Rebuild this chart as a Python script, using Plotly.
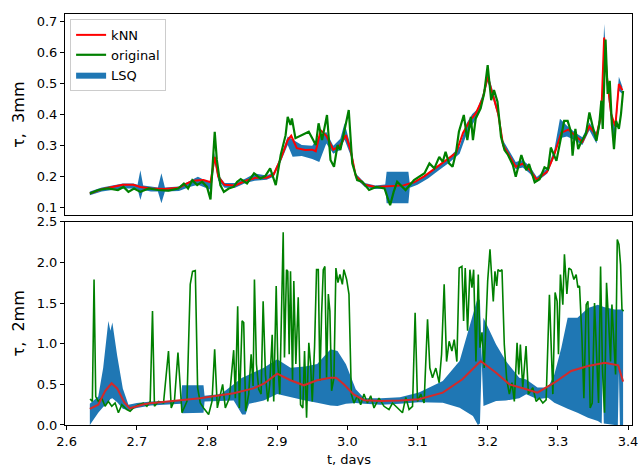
import plotly.graph_objects as go
from plotly.subplots import make_subplots

# ---- top panel: tau, 3mm ----
t_orig3 = [2.633, 2.645, 2.659, 2.673, 2.681, 2.688, 2.696, 2.705, 2.717, 2.730,
           2.745, 2.759, 2.767, 2.773, 2.779, 2.786, 2.793, 2.800, 2.805, 2.811,
           2.814, 2.819, 2.824, 2.831, 2.838, 2.843, 2.848, 2.857, 2.867, 2.876,
           2.883, 2.890, 2.898, 2.905, 2.912, 2.915, 2.919, 2.921, 2.926, 2.936,
           2.945, 2.950, 2.955, 2.959, 2.964, 2.971, 2.976, 2.981, 2.986, 2.990,
           2.998, 3.002, 3.007, 3.014, 3.021, 3.031, 3.041, 3.053, 3.061, 3.066,
           3.071, 3.083, 3.095, 3.110, 3.117, 3.124, 3.131, 3.136, 3.140, 3.145,
           3.150, 3.155, 3.159, 3.166, 3.171, 3.176, 3.179, 3.183, 3.190, 3.195,
           3.200, 3.205, 3.209, 3.214, 3.219, 3.224, 3.229, 3.236, 3.240, 3.248,
           3.255, 3.259, 3.267, 3.274, 3.281, 3.286, 3.290, 3.298, 3.305, 3.309,
           3.314, 3.319, 3.321, 3.325, 3.329, 3.333, 3.340, 3.345, 3.350, 3.355,
           3.359, 3.362, 3.364, 3.368, 3.371, 3.374, 3.377, 3.380, 3.383, 3.387,
           3.390, 3.393]
orig3 = [0.144, 0.155, 0.160, 0.155, 0.165, 0.149, 0.160, 0.149, 0.160, 0.155,
         0.153, 0.160, 0.176, 0.160, 0.187, 0.171, 0.182, 0.165, 0.125, 0.343,
         0.252, 0.171, 0.149, 0.160, 0.165, 0.182, 0.190, 0.176, 0.209, 0.192,
         0.200, 0.225, 0.171, 0.268, 0.332, 0.391, 0.365, 0.386, 0.322, 0.332,
         0.343, 0.322, 0.300, 0.370, 0.316, 0.397, 0.252, 0.230, 0.300, 0.284,
         0.365, 0.413, 0.241, 0.187, 0.182, 0.155, 0.165, 0.160, 0.106, 0.149,
         0.182, 0.155, 0.187, 0.209, 0.241, 0.225, 0.262, 0.246, 0.278, 0.241,
         0.230, 0.278, 0.343, 0.397, 0.316, 0.391, 0.316, 0.386, 0.418, 0.467,
         0.558, 0.445, 0.477, 0.440, 0.327, 0.284, 0.268, 0.235, 0.198, 0.268,
         0.219, 0.239, 0.180, 0.190, 0.228, 0.222, 0.292, 0.249, 0.330, 0.378,
         0.378, 0.341, 0.266, 0.352, 0.287, 0.309, 0.336, 0.405, 0.357, 0.314,
         0.367, 0.443, 0.352, 0.640, 0.465, 0.507, 0.368, 0.287, 0.378, 0.352,
         0.400, 0.475]

t_knn3 = [2.633, 2.650, 2.665, 2.680, 2.695, 2.705, 2.720, 2.740, 2.760, 2.770,
          2.780, 2.795, 2.805, 2.811, 2.816, 2.825, 2.840, 2.855, 2.870, 2.885,
          2.895, 2.905, 2.915, 2.920, 2.928, 2.940, 2.950, 2.955, 2.962, 2.970,
          2.980, 2.990, 2.998, 3.005, 3.012, 3.025, 3.040, 3.060, 3.080, 3.095,
          3.110, 3.125, 3.140, 3.155, 3.165, 3.175, 3.183, 3.193, 3.200, 3.207,
          3.215, 3.222, 3.230, 3.240, 3.250, 3.260, 3.270, 3.285, 3.295, 3.305,
          3.315, 3.325, 3.335, 3.345, 3.355, 3.362, 3.366, 3.370, 3.376, 3.382,
          3.387, 3.392]
knn3 = [0.144, 0.158, 0.165, 0.172, 0.172, 0.165, 0.160, 0.158, 0.162, 0.175,
        0.185, 0.187, 0.180, 0.262, 0.198, 0.172, 0.170, 0.185, 0.195, 0.195,
        0.205, 0.255, 0.316, 0.330, 0.290, 0.284, 0.285, 0.280, 0.348, 0.330,
        0.285, 0.300, 0.332, 0.280, 0.200, 0.172, 0.165, 0.168, 0.170, 0.180,
        0.200, 0.225, 0.250, 0.275, 0.340, 0.380, 0.402, 0.450, 0.520, 0.467,
        0.400, 0.300, 0.270, 0.230, 0.240, 0.220, 0.188, 0.215, 0.270, 0.340,
        0.350, 0.330, 0.310, 0.360, 0.330, 0.400, 0.647, 0.520, 0.400, 0.360,
        0.497, 0.477]

t_lsq3 = [2.633, 2.650, 2.665, 2.680, 2.695, 2.701, 2.705, 2.709, 2.720, 2.730,
          2.735, 2.740, 2.760, 2.775, 2.787, 2.800, 2.806, 2.811, 2.816, 2.825,
          2.840, 2.855, 2.868, 2.885, 2.895, 2.905, 2.915, 2.922, 2.935, 2.950,
          2.960, 2.970, 2.980, 2.990, 2.996, 3.005, 3.012, 3.025, 3.040, 3.054,
          3.056, 3.087, 3.089, 3.100, 3.115, 3.130, 3.145, 3.160, 3.170, 3.178,
          3.185, 3.193, 3.200, 3.207, 3.215, 3.222, 3.230, 3.240, 3.250, 3.260,
          3.270, 3.285, 3.295, 3.303, 3.313, 3.325, 3.335, 3.345, 3.355, 3.362,
          3.366, 3.370, 3.376, 3.381, 3.387, 3.392]
lsq3_lo = [0.138, 0.150, 0.155, 0.160, 0.160, 0.158, 0.123, 0.155, 0.150, 0.150,
           0.112, 0.150, 0.152, 0.165, 0.172, 0.160, 0.155, 0.245, 0.185, 0.162,
           0.162, 0.178, 0.185, 0.188, 0.198, 0.245, 0.300, 0.262, 0.265, 0.255,
           0.245, 0.305, 0.272, 0.285, 0.318, 0.265, 0.192, 0.165, 0.158, 0.160,
           0.112, 0.112, 0.162, 0.172, 0.192, 0.218, 0.243, 0.272, 0.335, 0.365,
           0.392, 0.442, 0.505, 0.455, 0.390, 0.292, 0.262, 0.222, 0.228, 0.208,
           0.182, 0.208, 0.262, 0.322, 0.328, 0.315, 0.300, 0.348, 0.305, 0.385,
           0.610, 0.490, 0.375, 0.300, 0.475, 0.465]
lsq3_hi = [0.150, 0.163, 0.170, 0.176, 0.176, 0.172, 0.219, 0.170, 0.166, 0.163,
           0.209, 0.163, 0.166, 0.183, 0.198, 0.183, 0.180, 0.275, 0.205, 0.178,
           0.178, 0.192, 0.208, 0.202, 0.212, 0.262, 0.328, 0.318, 0.300, 0.298,
           0.330, 0.342, 0.298, 0.320, 0.370, 0.295, 0.208, 0.178, 0.170, 0.173,
           0.214, 0.214, 0.176, 0.186, 0.207, 0.235, 0.260, 0.295, 0.370, 0.400,
           0.415, 0.465, 0.535, 0.478, 0.415, 0.315, 0.285, 0.245, 0.252, 0.232,
           0.197, 0.226, 0.285, 0.385, 0.362, 0.340, 0.325, 0.372, 0.340, 0.415,
           0.690, 0.545, 0.415, 0.355, 0.520, 0.488]

# ---- bottom panel: tau, 2mm ----
t_orig2 = [2.6333, 2.6366, 2.6390, 2.6414, 2.6451, 2.6500, 2.6547, 2.6594, 2.6643, 2.6690,
           2.6737, 2.6786, 2.6857, 2.6904, 2.6951, 2.7023, 2.7094, 2.7143, 2.7190, 2.7223,
           2.7251, 2.7309, 2.7380, 2.7451, 2.7490, 2.7537, 2.7586, 2.7643, 2.7714, 2.7761,
           2.7794, 2.7833, 2.7866, 2.7904, 2.7951, 2.8023, 2.8071, 2.8109, 2.8147, 2.8190,
           2.8223, 2.8261, 2.8319, 2.8380, 2.8404, 2.8437, 2.8461, 2.8500, 2.8523, 2.8551,
           2.8594, 2.8629, 2.8657, 2.8676, 2.8704, 2.8737, 2.8771, 2.8800, 2.8833, 2.8866,
           2.8894, 2.8929, 2.8951, 2.8986, 2.9009, 2.9037, 2.9086, 2.9104, 2.9133, 2.9151,
           2.9171, 2.9190, 2.9219, 2.9237, 2.9266, 2.9300, 2.9333, 2.9366, 2.9390, 2.9419,
           2.9451, 2.9476, 2.9500, 2.9533, 2.9561, 2.9586, 2.9609, 2.9633, 2.9657, 2.9680,
           2.9704, 2.9729, 2.9751, 2.9776, 2.9809, 2.9837, 2.9866, 2.9894, 2.9929, 2.9951,
           2.9990, 3.0023, 3.0057, 3.0094, 3.0143, 3.0190, 3.0237, 3.0286, 3.0333, 3.0380,
           3.0451, 3.0523, 3.0594, 3.0643, 3.0714, 3.0786, 3.0833, 3.0880, 3.0929, 3.0966,
           3.1000, 3.1047, 3.1094, 3.1143, 3.1176, 3.1214, 3.1261, 3.1309, 3.1343, 3.1380,
           3.1414, 3.1451, 3.1490, 3.1523, 3.1561, 3.1594, 3.1633, 3.1657, 3.1680, 3.1714,
           3.1747, 3.1776, 3.1800, 3.1833, 3.1866, 3.1890, 3.1919, 3.1951, 3.2000, 3.2033,
           3.2061, 3.2080, 3.2104, 3.2129, 3.2147, 3.2176, 3.2204, 3.2237, 3.2271, 3.2309,
           3.2347, 3.2380, 3.2419, 3.2443, 3.2466, 3.2500, 3.2547, 3.2580, 3.2643, 3.2690,
           3.2737, 3.2786, 3.2833, 3.2880, 3.2929, 3.2961, 3.2990, 3.3009, 3.3037, 3.3071,
           3.3094, 3.3129, 3.3157, 3.3190, 3.3229, 3.3261, 3.3286, 3.3309, 3.3343, 3.3371,
           3.3404, 3.3429, 3.3461, 3.3490, 3.3523, 3.3547, 3.3580, 3.3609, 3.3637, 3.3666,
           3.3694, 3.3723, 3.3751, 3.3771, 3.3800, 3.3823, 3.3847, 3.3871, 3.3894, 3.3914,
           3.3937]
orig2 = [0.32, 0.29, 1.79, 0.35, 0.29, 0.33, 0.23, 0.29, 0.23, 0.27,
         0.15, 0.25, 0.19, 0.17, 0.21, 0.25, 0.27, 0.23, 0.29, 1.40,
         0.23, 0.29, 0.27, 0.91, 0.21, 0.31, 0.89, 0.15, 0.29, 1.73,
         1.89, 1.90, 0.46, 0.27, 0.21, 0.13, 0.29, 0.93, 0.21, 0.38,
         0.50, 0.21, 0.33, 0.92, 0.33, 1.46, 0.21, 1.28, 1.26, 0.17,
         0.38, 0.87, 0.48, 1.79, 0.75, 0.44, 0.38, 1.52, 0.62, 0.29,
         0.50, 1.11, 0.29, 1.71, 0.75, 0.38, 2.37, 0.83, 1.91, 1.89,
         0.87, 1.89, 0.54, 1.77, 0.75, 1.57, 0.25, 0.21, 0.91, 0.09,
         1.01, 0.75, 0.29, 0.97, 1.91, 1.91, 0.54, 1.36, 1.91, 1.95,
         0.58, 1.61, 1.40, 0.42, 0.58, 1.93, 1.75, 1.85, 1.73, 1.91,
         1.79, 1.61, 0.38, 0.27, 0.36, 0.25, 0.38, 0.27, 0.36, 0.21,
         0.33, 0.23, 0.19, 0.27, 0.21, 0.15, 0.34, 0.19, 0.23, 1.38,
         0.29, 0.38, 0.27, 1.30, 0.70, 0.58, 0.70, 0.52, 0.87, 1.73,
         0.78, 1.03, 0.91, 1.05, 0.78, 1.93, 1.95, 1.28, 1.93, 1.16,
         1.91, 1.69, 1.91, 0.78, 1.85, 0.95, 1.14, 0.70, 1.77, 2.16,
         1.77, 1.52, 1.89, 1.71, 1.91, 1.89, 1.91, 0.99, 0.56, 0.38,
         0.52, 0.29, 1.01, 0.62, 0.99, 0.46, 0.97, 0.38, 0.46, 0.29,
         0.33, 0.27, 0.31, 1.60, 0.38, 1.63, 1.52, 0.87, 1.85, 1.48,
         2.10, 1.61, 1.93, 1.91, 1.79, 1.85, 1.69, 1.71, 1.09, 0.33,
         1.48, 1.52, 0.21, 0.27, 1.50, 1.03, 0.27, 1.95, 0.66, 0.15,
         1.75, 1.28, 0.78, 1.48, 0.93, 0.62, 2.28, 2.22, 1.97, 1.42,
         1.40]

t_knn2 = [2.633, 2.645, 2.655, 2.664, 2.672, 2.682, 2.690, 2.700, 2.710, 2.719,
          2.750, 2.790, 2.838, 2.866, 2.881, 2.900, 2.919, 2.938, 2.957, 2.976,
          2.984, 2.995, 3.009, 3.024, 3.048, 3.075, 3.102, 3.136, 3.164, 3.190,
          3.212, 3.231, 3.255, 3.271, 3.295, 3.319, 3.343, 3.367, 3.386, 3.393]
knn2 = [0.197, 0.25, 0.42, 0.513, 0.45, 0.28, 0.205, 0.23, 0.255, 0.267,
        0.29, 0.328, 0.39, 0.45, 0.508, 0.631, 0.55, 0.488, 0.55, 0.582,
        0.582, 0.50, 0.377, 0.304, 0.295, 0.30, 0.316, 0.398, 0.562, 0.787,
        0.643, 0.50, 0.439, 0.398, 0.52, 0.664, 0.726, 0.766, 0.734, 0.533]

t_lsq2 = [2.633, 2.645, 2.652, 2.6594, 2.6623, 2.6651, 2.672, 2.680, 2.688, 2.700,
          2.720, 2.763, 2.7645, 2.795, 2.7965, 2.820, 2.838, 2.850, 2.855, 2.860,
          2.881, 2.900, 2.919, 2.940, 2.957, 2.976, 2.986, 2.998, 3.012, 3.024,
          3.048, 3.075, 3.102, 3.136, 3.160, 3.179, 3.186, 3.189, 3.1915, 3.194,
          3.212, 3.226, 3.245, 3.255, 3.271, 3.286, 3.295, 3.305, 3.314, 3.328,
          3.343, 3.357, 3.3625, 3.364, 3.3655, 3.381, 3.3855, 3.387, 3.3885, 3.393]
lsq2_lo = [0.00, 0.15, 0.22, 0.28, 0.32, 0.33, 0.28, 0.20, 0.18, 0.21,
           0.24, 0.26, 0.144, 0.15, 0.29, 0.30, 0.30, 0.13, 0.13, 0.26,
           0.30, 0.38, 0.34, 0.30, 0.275, 0.24, 0.234, 0.26, 0.27, 0.26,
           0.25, 0.26, 0.28, 0.275, 0.213, 0.11, 0.00, 0.02, 0.78, 0.234,
           0.295, 0.30, 0.33, 0.377, 0.316, 0.336, 0.275, 0.234, 0.20, 0.15,
           0.09, 0.05, 0.02, 0.66, 0.02, 0.00, 0.00, 0.66, 0.00, 0.00]
lsq2_hi = [0.26, 0.35, 0.70, 1.28, 1.16, 1.26, 0.85, 0.45, 0.25, 0.27,
           0.29, 0.30, 0.49, 0.49, 0.36, 0.38, 0.50, 0.58, 0.60, 0.62,
           0.705, 0.808, 0.705, 0.72, 0.75, 0.93, 0.91, 0.746, 0.44, 0.33,
           0.33, 0.34, 0.40, 0.54, 0.787, 1.36, 1.57, 1.53, 0.80, 1.32,
           0.99, 0.787, 0.58, 0.56, 0.46, 0.46, 0.62, 0.95, 1.32, 1.32,
           1.44, 1.48, 1.46, 1.45, 1.45, 1.42, 1.42, 1.42, 1.42, 1.42]

x_ticks = [2.6, 2.7, 2.8, 2.9, 3.0, 3.1, 3.2, 3.3, 3.4]
y3_ticks = [0.1, 0.2, 0.3, 0.4, 0.5, 0.6, 0.7]
y2_ticks = [0.0, 0.5, 1.0, 1.5, 2.0, 2.5]

BLUE = '#1f77b4'
GREEN = 'green'

fig = make_subplots(rows=2, cols=1, shared_xaxes=True)

# top: LSQ band, kNN, original
fig.add_trace(go.Scatter(x=t_lsq3, y=lsq3_lo, mode='lines', line=dict(width=0, color=BLUE),
                         showlegend=False, hoverinfo='skip'), row=1, col=1)
fig.add_trace(go.Scatter(x=t_lsq3, y=lsq3_hi, mode='lines', line=dict(width=0, color=BLUE),
                         fill='tonexty', fillcolor=BLUE, name='LSQ', legendrank=3),
              row=1, col=1)
fig.add_trace(go.Scatter(x=t_knn3, y=knn3, mode='lines', line=dict(color='red', width=2),
                         name='kNN', legendrank=1), row=1, col=1)
fig.add_trace(go.Scatter(x=t_orig3, y=orig3, mode='lines', line=dict(color=GREEN, width=2.2),
                         name='original', legendrank=2), row=1, col=1)

# bottom: LSQ band, original, kNN
fig.add_trace(go.Scatter(x=t_lsq2, y=lsq2_lo, mode='lines', line=dict(width=0, color=BLUE),
                         showlegend=False, hoverinfo='skip'), row=2, col=1)
fig.add_trace(go.Scatter(x=t_lsq2, y=lsq2_hi, mode='lines', line=dict(width=0, color=BLUE),
                         fill='tonexty', fillcolor=BLUE, showlegend=False), row=2, col=1)
fig.add_trace(go.Scatter(x=t_orig2, y=orig2, mode='lines', line=dict(color=GREEN, width=1.6),
                         showlegend=False), row=2, col=1)
fig.add_trace(go.Scatter(x=t_knn2, y=knn2, mode='lines', line=dict(color='#d42a2a', width=2),
                         showlegend=False), row=2, col=1)

axis_style = dict(showline=True, linecolor='black', linewidth=1, mirror=True,
                  showgrid=False, zeroline=False, automargin=False)

fig.update_layout(
    width=638, height=465,
    margin=dict(l=65, r=6, t=14, b=40),
    plot_bgcolor='white', paper_bgcolor='white',
    font=dict(family='DejaVu Sans', size=13, color='black'),
    legend=dict(x=0.009, y=0.988, xanchor='left', yanchor='top', traceorder='normal',
                bgcolor='white', bordercolor='#cccccc', borderwidth=1,
                font=dict(size=13), tracegroupgap=0),
    xaxis=dict(range=[2.5976, 3.4057], showticklabels=False, ticks='', **axis_style),
    xaxis2=dict(range=[2.5976, 3.4057], tickvals=x_ticks, tickformat='.1f',
                ticks='outside', ticklen=4, tickcolor='black', ticklabeloverflow='allow',
                **axis_style),
    yaxis=dict(domain=[0.5102, 1.0], range=[0.0735, 0.7226], tickvals=y3_ticks,
               tickformat='.1f', ticks='outside', ticklen=4, tickcolor='black',
               title=dict(text='\u03c4,\u00a0 3mm', standoff=8), **axis_style),
    yaxis2=dict(domain=[0.0, 0.4947], range=[0, 2.5], tickvals=y2_ticks,
                tickformat='.1f', ticks='outside', ticklen=4, tickcolor='black',
                title=dict(text='\u03c4,\u00a0 2mm', standoff=8), **axis_style),
)

# x label sits low, partly cut by the bottom edge as in the original figure
fig.add_annotation(text='t, days', xref='paper', yref='paper', x=0.5, y=-0.083,
                   xanchor='center', yanchor='middle', showarrow=False,
                   font=dict(size=13))

# drop the default page margin so the figure sits at the window's top-left corner
fig.write_html("out.html", config={'displayModeBar': False},
               post_script="document.body.style.margin = '0';")
